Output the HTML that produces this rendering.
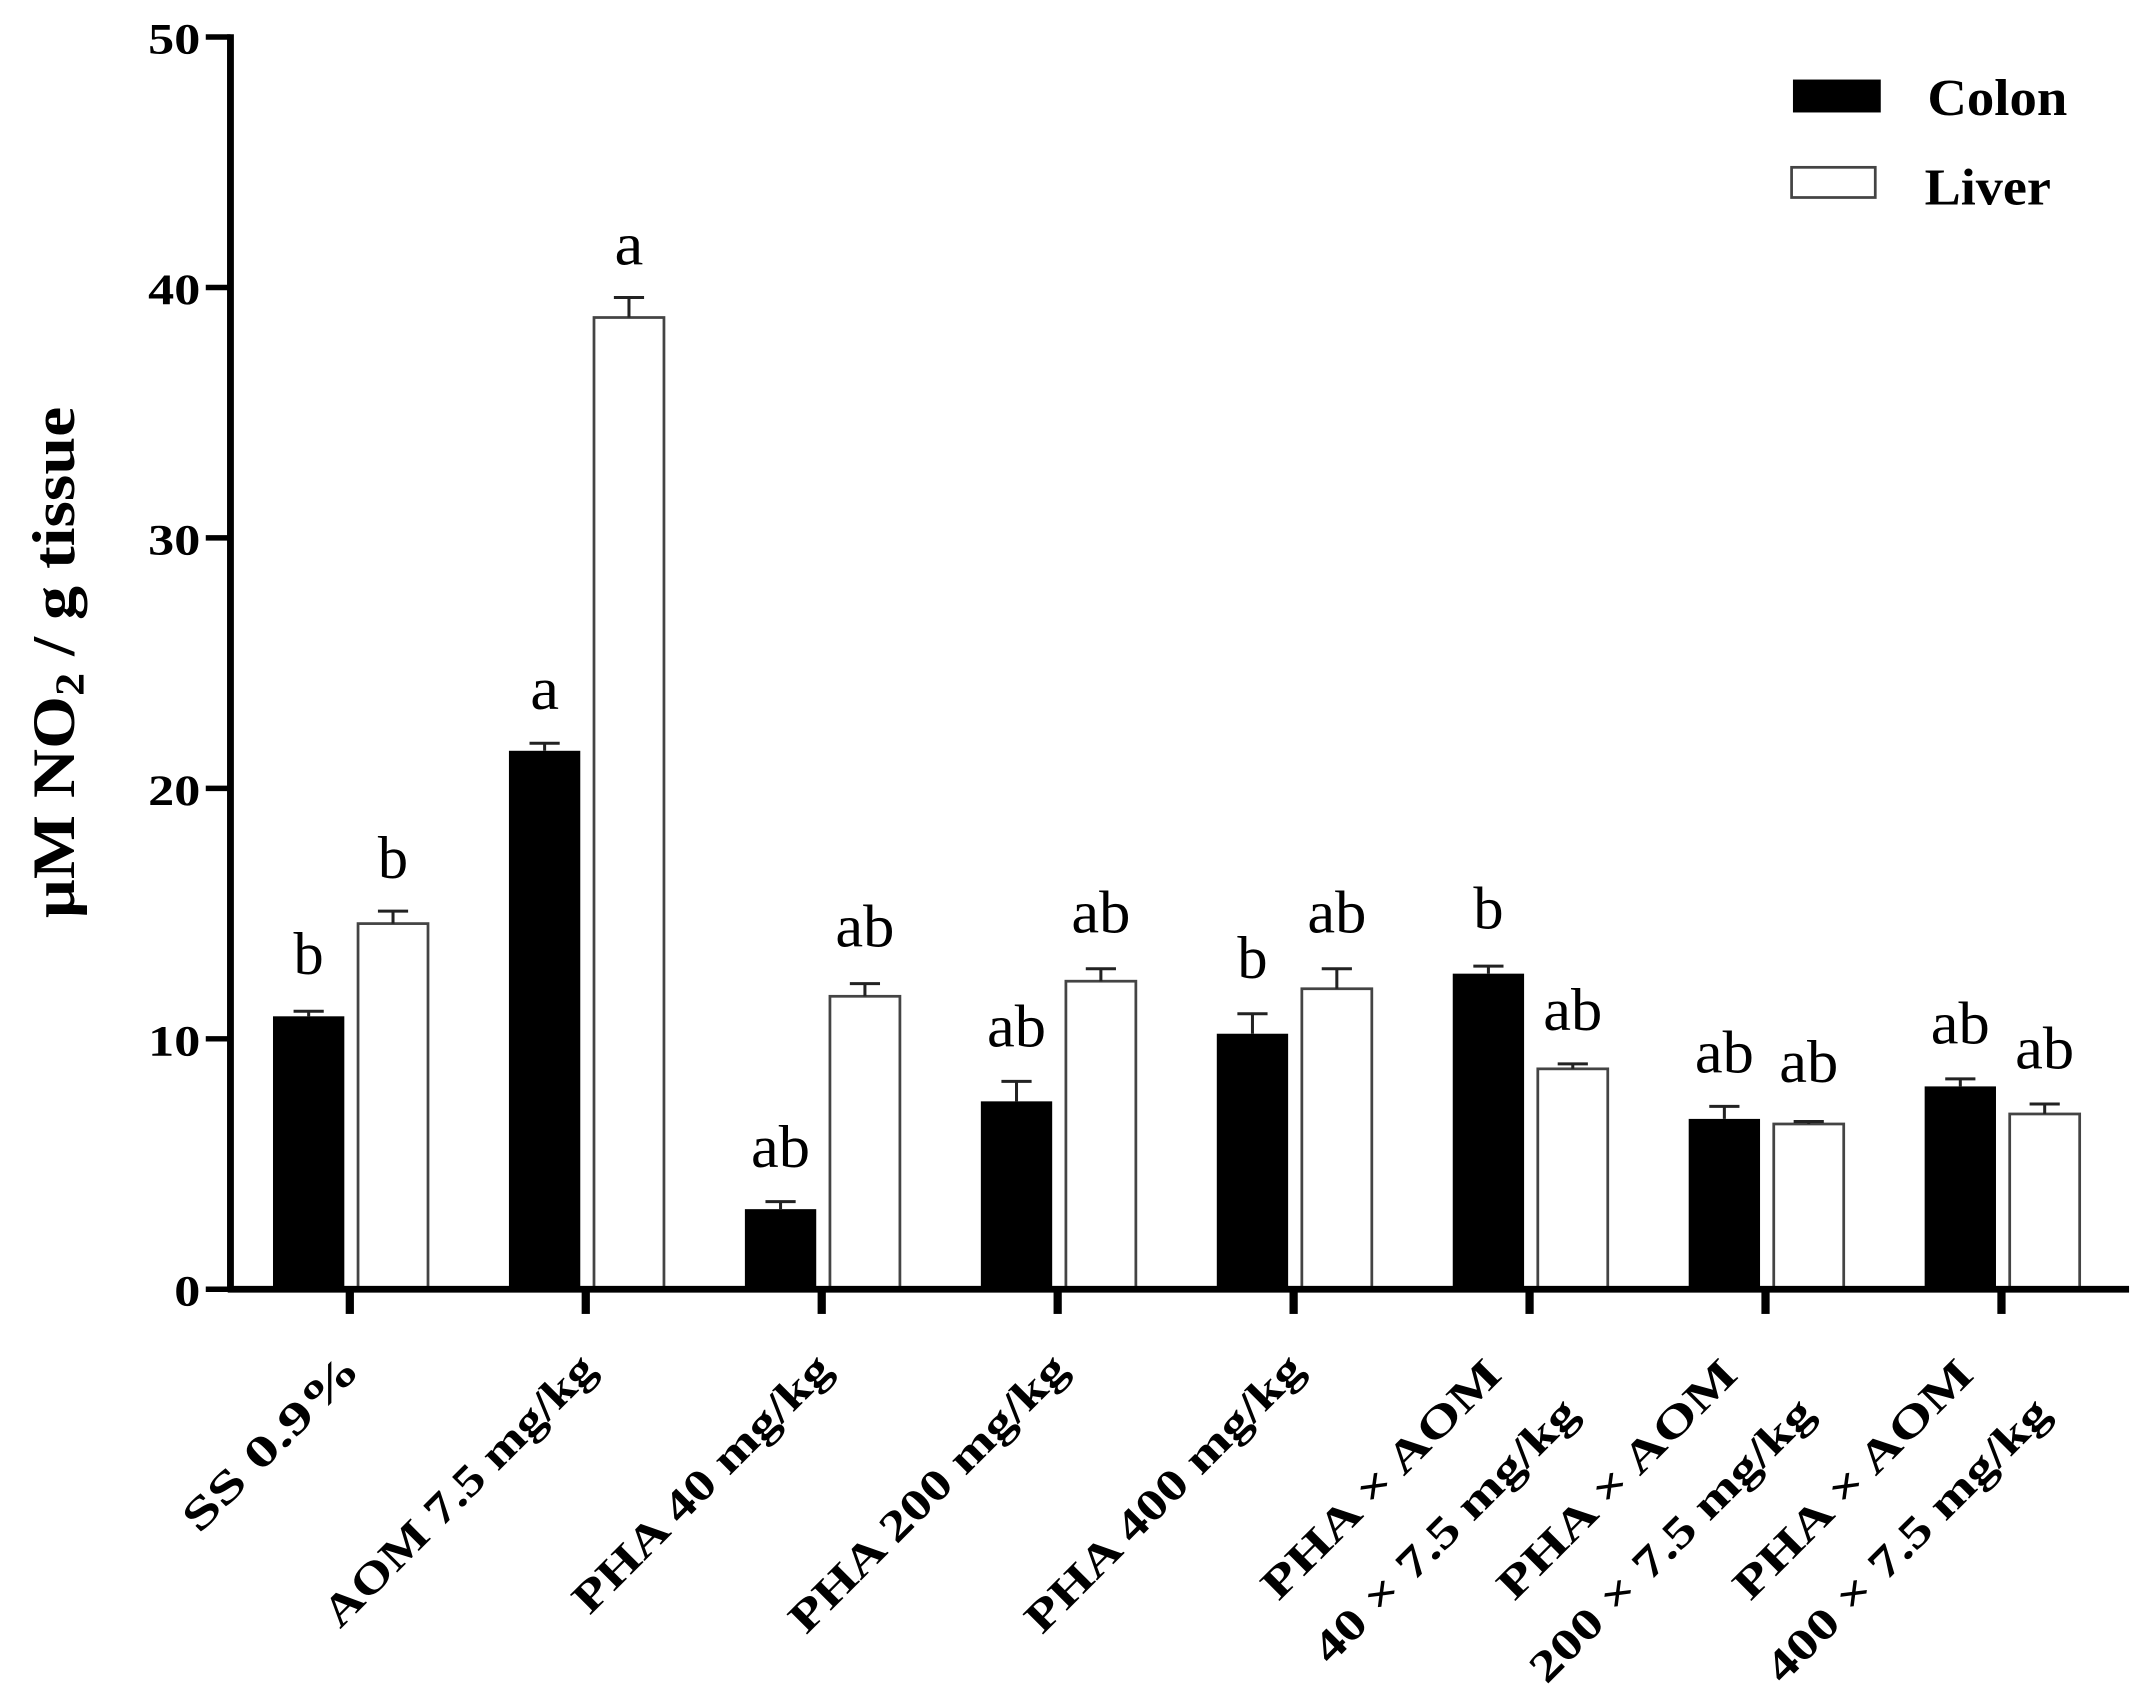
<!DOCTYPE html>
<html><head><meta charset="utf-8"><style>html,body{margin:0;padding:0;background:#fff}svg{display:block}</style></head>
<body>
<svg width="2151" height="1687" viewBox="0 0 1568 1230" preserveAspectRatio="none" xmlns="http://www.w3.org/2000/svg" font-family="'Liberation Serif', serif">
<rect width="1568" height="1230" fill="#fff"/>
<g fill="#000">
<rect x="199" y="741" width="52" height="199"/>
<rect x="371" y="547.4" width="52" height="392.6"/>
<rect x="543" y="881.6" width="52" height="58.4"/>
<rect x="715" y="803" width="52" height="137"/>
<rect x="887" y="753.7" width="52" height="186.3"/>
<rect x="1059" y="709.9" width="52" height="230.1"/>
<rect x="1231" y="815.8" width="52" height="124.2"/>
<rect x="1403" y="792.1" width="52" height="147.9"/>
</g>
<g fill="#fff" stroke="#444" stroke-width="2">
<rect x="261" y="673.4" width="51" height="266.6"/>
<rect x="433" y="231.5" width="51" height="708.5"/>
<rect x="605" y="726.4" width="51" height="213.6"/>
<rect x="777" y="715.4" width="51" height="224.6"/>
<rect x="949" y="720.9" width="51" height="219.1"/>
<rect x="1121" y="779.3" width="51" height="160.7"/>
<rect x="1293" y="819.5" width="51" height="120.5"/>
<rect x="1465" y="812.2" width="51" height="127.8"/>
</g>
<g stroke="#222" stroke-width="2.2" fill="none">
<path d="M225 741V737.3M214 737.3H236"/>
<path d="M397 547.4V541.9M386 541.9H408"/>
<path d="M569 881.6V876.1M558 876.1H580"/>
<path d="M741 803V788.4M730 788.4H752"/>
<path d="M913 753.7V739.1M902 739.1H924"/>
<path d="M1085 709.9V704.4M1074 704.4H1096"/>
<path d="M1257 815.8V806.7M1246 806.7H1268"/>
<path d="M1429 792.1V786.6M1418 786.6H1440"/>
<path d="M286.5 673.4V664.3M275.5 664.3H297.5"/>
<path d="M458.5 231.5V216.9M447.5 216.9H469.5"/>
<path d="M630.5 726.4V717.2M619.5 717.2H641.5"/>
<path d="M802.5 715.4V706.3M791.5 706.3H813.5"/>
<path d="M974.5 720.9V706.3M963.5 706.3H985.5"/>
<path d="M1146.5 779.3V775.7M1135.5 775.7H1157.5"/>
<path d="M1318.5 819.5V817.7M1307.5 817.7H1329.5"/>
<path d="M1490.5 812.2V804.9M1479.5 804.9H1501.5"/>
</g>
<g font-size="44" text-anchor="middle" fill="#000">
<text x="225" y="710" textLength="22" lengthAdjust="spacingAndGlyphs">b</text>
<text x="397" y="517" textLength="21" lengthAdjust="spacingAndGlyphs">a</text>
<text x="569" y="851" textLength="43" lengthAdjust="spacingAndGlyphs">ab</text>
<text x="741" y="763" textLength="43" lengthAdjust="spacingAndGlyphs">ab</text>
<text x="913" y="713" textLength="22" lengthAdjust="spacingAndGlyphs">b</text>
<text x="1085" y="677" textLength="22" lengthAdjust="spacingAndGlyphs">b</text>
<text x="1257" y="782" textLength="43" lengthAdjust="spacingAndGlyphs">ab</text>
<text x="1429" y="761" textLength="43" lengthAdjust="spacingAndGlyphs">ab</text>
<text x="286.5" y="640" textLength="22" lengthAdjust="spacingAndGlyphs">b</text>
<text x="458.5" y="193" textLength="21" lengthAdjust="spacingAndGlyphs">a</text>
<text x="630.5" y="690" textLength="43" lengthAdjust="spacingAndGlyphs">ab</text>
<text x="802.5" y="680" textLength="43" lengthAdjust="spacingAndGlyphs">ab</text>
<text x="974.5" y="680" textLength="43" lengthAdjust="spacingAndGlyphs">ab</text>
<text x="1146.5" y="751" textLength="43" lengthAdjust="spacingAndGlyphs">ab</text>
<text x="1318.5" y="789" textLength="43" lengthAdjust="spacingAndGlyphs">ab</text>
<text x="1490.5" y="779" textLength="43" lengthAdjust="spacingAndGlyphs">ab</text>
</g>
<g stroke="#000">
<line x1="168" y1="25" x2="168" y2="942" stroke-width="5"/>
<line x1="166" y1="940" x2="1552" y2="940" stroke-width="5"/>
<g stroke-width="4">
<line x1="150" y1="27" x2="168" y2="27"/>
<line x1="150" y1="209.6" x2="168" y2="209.6"/>
<line x1="150" y1="392.2" x2="168" y2="392.2"/>
<line x1="150" y1="574.8" x2="168" y2="574.8"/>
<line x1="150" y1="757.4" x2="168" y2="757.4"/>
<line x1="150" y1="940" x2="168" y2="940"/>
</g>
<g stroke-width="6">
<line x1="255" y1="940" x2="255" y2="958"/>
<line x1="427" y1="940" x2="427" y2="958"/>
<line x1="599" y1="940" x2="599" y2="958"/>
<line x1="771" y1="940" x2="771" y2="958"/>
<line x1="943" y1="940" x2="943" y2="958"/>
<line x1="1115" y1="940" x2="1115" y2="958"/>
<line x1="1287" y1="940" x2="1287" y2="958"/>
<line x1="1459" y1="940" x2="1459" y2="958"/>
</g>
</g>
<g font-size="32" font-weight="bold" text-anchor="end" fill="#000">
<text x="146" y="39" textLength="38" lengthAdjust="spacingAndGlyphs">50</text>
<text x="146" y="221.6" textLength="38" lengthAdjust="spacingAndGlyphs">40</text>
<text x="146" y="404.2" textLength="38" lengthAdjust="spacingAndGlyphs">30</text>
<text x="146" y="586.8" textLength="38" lengthAdjust="spacingAndGlyphs">20</text>
<text x="146" y="769.4" textLength="38" lengthAdjust="spacingAndGlyphs">10</text>
<text x="146" y="952" textLength="19" lengthAdjust="spacingAndGlyphs">0</text>
</g>
<text transform="translate(54,483) rotate(-90)" text-anchor="middle" font-size="44" font-weight="bold" fill="#000" textLength="373" lengthAdjust="spacingAndGlyphs">µM NO<tspan font-size="30" dy="7">2</tspan><tspan dy="-7"> / g tissue</tspan></text>
<rect x="1307" y="58" width="64" height="24" fill="#000"/>
<rect x="1306" y="122" width="61" height="22" fill="#fff" stroke="#444" stroke-width="2"/>
<g font-size="38" font-weight="bold" fill="#000">
<text x="1405" y="84" textLength="102" lengthAdjust="spacingAndGlyphs">Colon</text>
<text x="1403" y="149" textLength="92" lengthAdjust="spacingAndGlyphs">Liver</text>
</g>
<g font-size="32" font-weight="bold" text-anchor="end" fill="#000">
<text transform="translate(264,1000) rotate(-45)" textLength="168" lengthAdjust="spacingAndGlyphs">SS 0.9%</text>
<text transform="translate(436,1000) rotate(-45)" textLength="266" lengthAdjust="spacingAndGlyphs">AOM 7.5 mg/kg</text>
<text transform="translate(608,1000) rotate(-45)" textLength="252" lengthAdjust="spacingAndGlyphs">PHA 40 mg/kg</text>
<text transform="translate(780,1000) rotate(-45)" textLength="272" lengthAdjust="spacingAndGlyphs">PHA 200 mg/kg</text>
<text transform="translate(952,1000) rotate(-45)" textLength="272" lengthAdjust="spacingAndGlyphs">PHA 400 mg/kg</text>
<text transform="translate(1096,1004) rotate(-45)" textLength="232" lengthAdjust="spacingAndGlyphs">PHA × AOM</text>
<text transform="translate(1152,1032) rotate(-45)" textLength="258" lengthAdjust="spacingAndGlyphs">40 × 7.5 mg/kg</text>
<text transform="translate(1268,1004) rotate(-45)" textLength="232" lengthAdjust="spacingAndGlyphs">PHA × AOM</text>
<text transform="translate(1324,1032) rotate(-45)" textLength="278" lengthAdjust="spacingAndGlyphs">200 × 7.5 mg/kg</text>
<text transform="translate(1440,1004) rotate(-45)" textLength="232" lengthAdjust="spacingAndGlyphs">PHA × AOM</text>
<text transform="translate(1496,1032) rotate(-45)" textLength="278" lengthAdjust="spacingAndGlyphs">400 × 7.5 mg/kg</text>
</g>
</svg>
</body></html>
